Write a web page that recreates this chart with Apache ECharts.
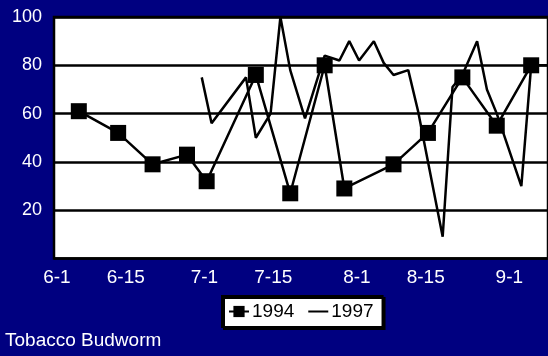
<!DOCTYPE html>
<html>
<head>
<meta charset="utf-8">
<script src="https://cdn.jsdelivr.net/npm/echarts@6/dist/echarts.min.js"></script>
<style>
html,body{margin:0;padding:0;background:#000080;}
#c{width:548px;height:356px;}
</style>
</head>
<body>
<div id="c"></div>
<script>
// Day numbers counted from June 1 (6-1 = day 0)
const tickLabels = ['6-1', '6-15', '7-1', '7-15', '8-1', '8-15', '9-1'];
const tickDays = [0, 14, 30, 44, 61, 75, 92];

const days1994 = [4, 12, 19, 26, 30, 40, 47, 54, 58, 68, 75, 82, 89, 96, 103];
const vals1994 = [61, 52, 39, 43, 32, 76, 27, 80, 29, 39, 52, 75, 55, 80, 80];

const days1997 = [29, 31, 38, 40, 43, 45, 47, 50, 54, 57, 59, 61, 64, 66, 68, 71, 73, 78, 80, 82, 85, 87, 89, 94, 96];
const vals1997 = [75, 56, 75, 50, 60, 100, 78, 58, 84, 82, 90, 82, 90, 81, 76, 78, 61, 9, 71, 76, 90, 70, 60, 30, 80];

const LABEL_SHIFT = -0.45;
const FONT = '"Liberation Sans", Arial, sans-serif';

const chart = echarts.init(document.getElementById('c'));
const labelPos = tickDays.map(d => d + LABEL_SHIFT);

chart.setOption({
  animation: false,
  backgroundColor: '#000080',
  title: {
    text: 'Tobacco Budworm',
    left: 5, top: 331, padding: 0,
    textStyle: { color: '#fff', fontSize: 19, fontWeight: 'normal', fontFamily: FONT }
  },
  legend: {
    left: 222, top: 296,
    padding: [6, 9, 6, 6],
    itemWidth: 20, itemHeight: 14, itemGap: 13,
    backgroundColor: '#fff',
    borderColor: '#000', borderWidth: 2,
    shadowColor: '#000', shadowOffsetX: 2, shadowOffsetY: 2, shadowBlur: 0,
    textStyle: { color: '#000', fontSize: 19, fontFamily: FONT, padding: [0, 0, 0, -2] },
    data: [
      { name: '1994' },
      { name: '1997', itemStyle: { color: 'rgba(0,0,0,0)', borderWidth: 0, opacity: 0 } }
    ]
  },
  grid: {
    left: 54, right: -5, top: 17, bottom: 97.5,
    show: true, backgroundColor: '#fff', borderColor: '#000', borderWidth: 2.5
  },
  xAxis: {
    type: 'value',
    min: -1.047, max: 99.42,
    axisLine: { show: false },
    axisTick: { show: false },
    splitLine: { show: false },
    axisLabel: {
      customValues: labelPos,
      color: '#fff', fontSize: 19, fontFamily: FONT, margin: 10,
      formatter: function (v) {
        for (let i = 0; i < labelPos.length; i++) {
          if (Math.abs(labelPos[i] - v) < 0.01) return tickLabels[i];
        }
        return '';
      }
    }
  },
  yAxis: {
    type: 'value',
    min: 0, max: 100, interval: 20,
    axisLine: { show: false },
    axisTick: { show: false },
    splitLine: { show: true, lineStyle: { color: '#000', width: 2.5 } },
    axisLabel: {
      color: '#fff', fontSize: 18, fontFamily: FONT, margin: 12,
      formatter: v => (v === 0 ? '' : String(v))
    }
  },
  series: [
    {
      name: '1994', type: 'line',
      data: days1994.map((d, i) => [d, vals1994[i]]),
      symbol: 'rect', symbolSize: 16,
      lineStyle: { color: '#000', width: 2.5 },
      itemStyle: { color: '#000' },
      clip: true, z: 3
    },
    {
      name: '1997', type: 'line',
      data: days1997.map((d, i) => [d, vals1997[i]]),
      symbol: 'none', showSymbol: false,
      lineStyle: { color: '#000', width: 2.5 },
      itemStyle: { color: '#000' },
      clip: true, z: 2
    }
  ]
});
</script>
</body>
</html>
